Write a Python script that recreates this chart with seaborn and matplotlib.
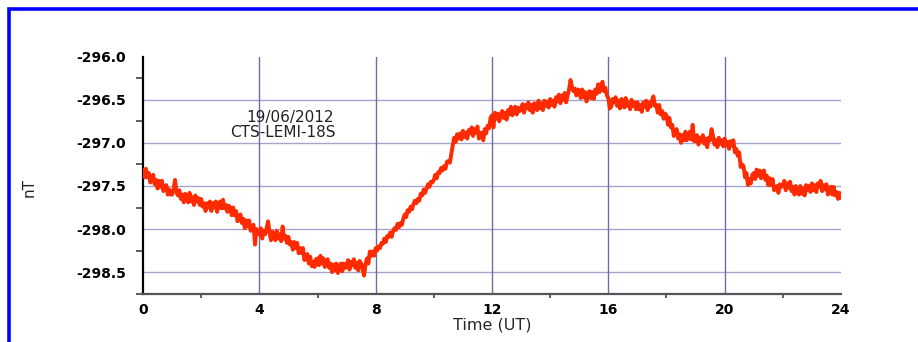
import numpy as np
import pandas as pd
import matplotlib
matplotlib.use("Agg")
import matplotlib.pyplot as plt
from matplotlib.patches import Rectangle
import seaborn as sns

# Magnetometer record, one sample every 0.05 h (00:00 - 24:00 UT), one row per hour
field_nT = [
    -297.31, -297.40, -297.30, -297.40, -297.35, -297.46, -297.40, -297.37, -297.48, -297.43,
    -297.53, -297.44, -297.51, -297.44, -297.56, -297.52, -297.49, -297.60, -297.54, -297.60,
    -297.60, -297.54, -297.43, -297.57, -297.61, -297.55, -297.65, -297.60, -297.69, -297.59,
    -297.62, -297.69, -297.58, -297.68, -297.63, -297.72, -297.61, -297.68, -297.64, -297.72,
    -297.65, -297.74, -297.70, -297.79, -297.70, -297.75, -297.68, -297.79, -297.70, -297.75,
    -297.68, -297.80, -297.71, -297.68, -297.76, -297.66, -297.76, -297.72, -297.80, -297.73,
    -297.75, -297.84, -297.75, -297.84, -297.79, -297.91, -297.85, -297.83, -297.93, -297.88,
    -297.99, -297.90, -297.97, -297.90, -298.02, -297.98, -297.95, -298.18, -298.00, -298.06,
    -298.06, -297.99, -298.11, -298.02, -298.06, -297.99, -297.91, -298.04, -298.13, -298.03,
    -298.06, -298.13, -298.02, -298.11, -298.06, -298.14, -297.97, -298.11, -298.08, -298.16,
    -298.09, -298.18, -298.15, -298.24, -298.15, -298.22, -298.16, -298.28, -298.22, -298.28,
    -298.22, -298.36, -298.30, -298.29, -298.40, -298.32, -298.43, -298.38, -298.44, -298.35,
    -298.34, -298.42, -298.31, -298.40, -298.34, -298.44, -298.37, -298.35, -298.45, -298.40,
    -298.50, -298.41, -298.48, -298.40, -298.51, -298.45, -298.40, -298.49, -298.40, -298.45,
    -298.43, -298.36, -298.47, -298.38, -298.42, -298.35, -298.45, -298.39, -298.48, -298.37,
    -298.40, -298.46, -298.54, -298.41, -298.34, -298.40, -298.26, -298.31, -298.26, -298.31,
    -298.22, -298.25, -298.20, -298.22, -298.16, -298.17, -298.11, -298.15, -298.08, -298.09,
    -298.04, -298.09, -298.02, -297.99, -298.01, -297.94, -297.98, -297.93, -297.95, -297.88,
    -297.83, -297.86, -297.78, -297.80, -297.74, -297.77, -297.71, -297.67, -297.70, -297.65,
    -297.67, -297.59, -297.61, -297.54, -297.58, -297.53, -297.48, -297.51, -297.45, -297.46,
    -297.43, -297.37, -297.41, -297.34, -297.35, -297.29, -297.32, -297.27, -297.30, -297.22,
    -297.21, -297.23, -297.13, -297.03, -296.94, -296.99, -296.90, -296.95, -296.89, -296.96,
    -296.86, -296.93, -296.88, -296.95, -296.85, -296.89, -296.82, -296.92, -296.84, -296.88,
    -296.81, -296.95, -296.89, -296.88, -296.97, -296.84, -296.89, -296.80, -296.83, -296.71,
    -296.68, -296.82, -296.65, -296.72, -296.66, -296.75, -296.68, -296.63, -296.71, -296.65,
    -296.73, -296.62, -296.67, -296.58, -296.68, -296.62, -296.58, -296.67, -296.59, -296.63,
    -296.62, -296.55, -296.65, -296.56, -296.60, -296.53, -296.62, -296.56, -296.65, -296.54,
    -296.56, -296.62, -296.51, -296.60, -296.54, -296.62, -296.51, -296.57, -296.52, -296.59,
    -296.49, -296.56, -296.51, -296.58, -296.47, -296.52, -296.44, -296.54, -296.45, -296.50,
    -296.42, -296.53, -296.45, -296.38, -296.27, -296.35, -296.40, -296.37, -296.45, -296.38,
    -296.39, -296.48, -296.38, -296.47, -296.41, -296.52, -296.45, -296.40, -296.48, -296.41,
    -296.49, -296.38, -296.43, -296.32, -296.41, -296.33, -296.29, -296.40, -296.36, -296.45,
    -296.48, -296.60, -296.58, -296.49, -296.53, -296.47, -296.57, -296.51, -296.60, -296.49,
    -296.52, -296.59, -296.48, -296.57, -296.53, -296.61, -296.50, -296.57, -296.53, -296.61,
    -296.53, -296.61, -296.56, -296.64, -296.53, -296.58, -296.51, -296.62, -296.53, -296.58,
    -296.51, -296.46, -296.57, -296.56, -296.65, -296.56, -296.67, -296.63, -296.72, -296.66,
    -296.68, -296.79, -296.71, -296.82, -296.79, -296.92, -296.87, -296.84, -296.95, -296.90,
    -297.00, -296.91, -296.97, -296.87, -296.97, -296.92, -296.87, -296.96, -296.79, -296.98,
    -296.98, -296.91, -297.02, -296.94, -296.98, -296.91, -297.01, -296.95, -297.05, -296.94,
    -296.97, -296.84, -296.92, -297.02, -296.97, -297.05, -296.94, -297.01, -296.97, -297.04,
    -296.95, -297.03, -296.99, -297.07, -296.98, -297.03, -296.97, -297.11, -297.07, -297.15,
    -297.11, -297.28, -297.25, -297.27, -297.40, -297.35, -297.49, -297.42, -297.47, -297.37,
    -297.35, -297.42, -297.31, -297.38, -297.32, -297.41, -297.34, -297.32, -297.43, -297.38,
    -297.49, -297.41, -297.49, -297.42, -297.55, -297.52, -297.50, -297.58, -297.48, -297.51,
    -297.50, -297.44, -297.55, -297.47, -297.52, -297.45, -297.56, -297.51, -297.60, -297.50,
    -297.54, -297.60, -297.50, -297.59, -297.53, -297.61, -297.49, -297.55, -297.50, -297.57,
    -297.47, -297.55, -297.49, -297.57, -297.47, -297.51, -297.44, -297.56, -297.49, -297.54,
    -297.48, -297.60, -297.53, -297.51, -297.60, -297.51, -297.61, -297.57, -297.65, -297.58,
    -297.64,
]
hours = np.round(np.arange(len(field_nT)) * 0.05, 2)

x_ticks = [0, 4, 8, 12, 16, 20, 24]
y_ticks = [-296.0, -296.5, -297.0, -297.5, -298.0, -298.5]
y_tick_labels = ["-296.0", "-296.5", "-297.0", "-297.5", "-298.0", "-298.5"]
date_label = "19/06/2012"
station_label = "CTS-LEMI-18S"

df = pd.DataFrame({"hour": hours, "nT": field_nT})

sns.set_style("white")
plt.rcParams["font.family"] = ["DejaVu Sans"]

fig = plt.figure(figsize=(9.18, 3.42), dpi=100)
ax = fig.add_axes([0.1558, 0.1412, 0.7603, 0.6930])

# blue frame around the figure
fig.patches.append(Rectangle((8.5 / 918, -0.2), 1.3, 1.2 - 8.5 / 342,
                             transform=fig.transFigure, fill=False,
                             edgecolor="#0000FF", linewidth=2.6, zorder=10))

# grid
for yv in y_ticks[1:]:
    ax.axhline(yv, color="#A4A4CE", lw=1.0, zorder=1)
for xv in x_ticks[1:-1]:
    ax.axvline(xv, color="#6E6EA6", lw=1.0, zorder=1)

sns.lineplot(data=df, x="hour", y="nT", ax=ax, color="#FF2A00", lw=2.8,
             zorder=3, legend=False)

ax.set_xlim(0, 24)
ax.set_ylim(-298.75, -296.0)
ax.set_xticks(x_ticks)
ax.set_xticks([2, 6, 10, 14, 18, 22], minor=True)
ax.set_yticks(y_ticks)
ax.set_yticklabels(y_tick_labels)
ax.set_yticks([-296.25, -296.75, -297.25, -297.75, -298.25, -298.75], minor=True)

for side in ("top", "right"):
    ax.spines[side].set_visible(False)
ax.spines["left"].set_color("black")
ax.spines["left"].set_linewidth(1.6)
ax.spines["bottom"].set_color("#555555")
ax.spines["bottom"].set_linewidth(1.6)

ax.tick_params(axis="y", which="major", direction="out", length=7, width=1.2,
               color="#444444", pad=5)
ax.tick_params(axis="y", which="minor", direction="out", length=5, width=1.2,
               color="#444444", left=True)
ax.tick_params(axis="x", which="major", direction="out", length=4, width=1.2,
               color="#444444", pad=3)
ax.tick_params(axis="x", which="minor", direction="out", length=3, width=1.2,
               color="#444444", bottom=True)

for lab in ax.get_xticklabels() + ax.get_yticklabels():
    lab.set_fontweight("bold")
    lab.set_fontsize(10)
    lab.set_color("black")

ax.set_xlabel("Time (UT)", fontsize=11.5, va="center")
ax.xaxis.set_label_coords(0.5, -0.13)
ax.set_ylabel("nT", fontsize=11)
ax.yaxis.set_label_coords(-0.152, 0.45)

ax.text(5.05, -296.71, date_label, ha="center", va="center", fontsize=11, color="#222222")
ax.text(4.8, -296.88, station_label, ha="center", va="center", fontsize=11, color="#222222")

fig.savefig("out.png", dpi=100)
